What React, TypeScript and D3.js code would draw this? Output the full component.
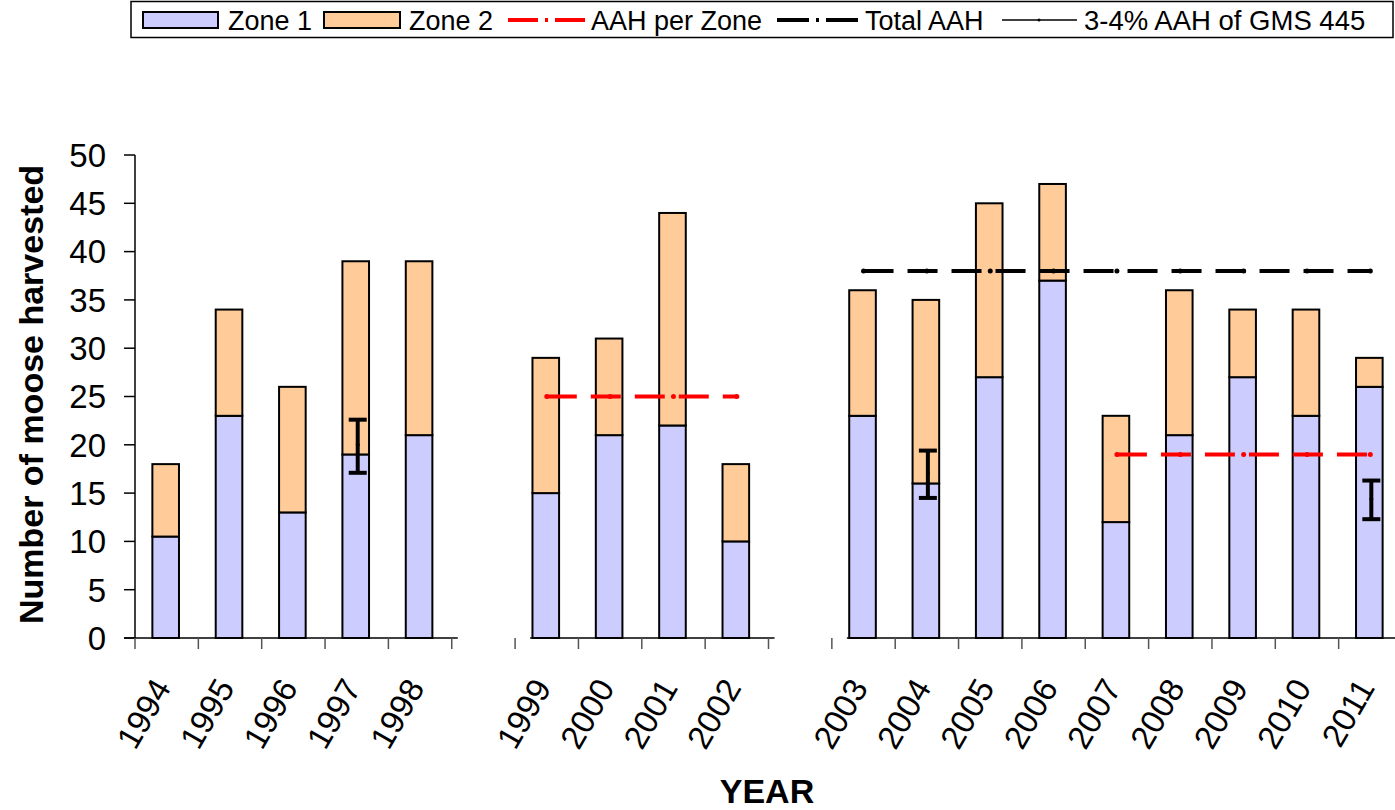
import React from "react";
import * as d3 from "d3";

// harvest by year (three separate reporting periods)
const period1 = ["1994", "1995", "1996", "1997", "1998"];
const period2 = ["1999", "2000", "2001", "2002"];
const period3 = ["2003", "2004", "2005", "2006", "2007", "2008", "2009", "2010", "2011"];
const years = [...period1, ...period2, ...period3];

const zone1 = [10.5, 23, 13, 19, 21, 15, 21, 22, 10, 23, 16, 27, 37, 12, 21, 27, 23, 26];
const zone2 = [7.5, 11, 13, 20, 18, 14, 10, 22, 8, 13, 19, 18, 10, 11, 15, 7, 11, 3];

// AAH lines
const aahZoneYearsA = ["1999", "2000", "2001", "2002"];
const aahZoneA = [25, 25, 25, 25];
const aahZoneYearsB = ["2007", "2008", "2009", "2010", "2011"];
const aahZoneB = [19, 19, 19, 19, 19];
const totalAahYears = period3;
const totalAah = [38, 38, 38, 38, 38, 38, 38, 38, 38];

// 3-4% AAH of GMS 445 (point + range)
const gmsYears = ["1997", "2004", "2011"];
const gmsMid = [20, 17.1, 14.4];
const gmsLow = [17.1, 14.5, 12.3];
const gmsHigh = [22.6, 19.4, 16.3];

const yTicks = [0, 5, 10, 15, 20, 25, 30, 35, 40, 45, 50];

const W = 1395;
const H = 810;
const font = "'Liberation Sans', Arial, sans-serif";

export default function App() {
  // gaps between the periods take one slot each
  const domain = [...period1, "gap1", ...period2, "gap2", ...period3];
  const x = d3.scaleBand().domain(domain).range([135, 1402]).padding(0);
  const bw = x.bandwidth();
  const y = d3.scaleLinear().domain([0, 50]).range([638, 155]);
  const barW = bw * 0.42;
  const cx = (d) => (x(d) as number) + bw / 2;

  const stack = d3.stack().keys(["z1", "z2"])(
    years.map((yr, i) => ({ year: yr, z1: zone1[i], z2: zone2[i] }))
  );
  const fills = ["#CCCCFF", "#FFCC99"];

  const line = d3
    .line<[string, number]>()
    .x((d) => cx(d[0]))
    .y((d) => y(d[1]));

  const dash = "30,14";

  const periods = [period1, period2, period3];

  return (
    <svg
      width={W}
      height={H}
      style={{ position: "absolute", left: 0, top: 0, background: "#fff" }}
      fontFamily={font}
    >
      {/* legend */}
      <g>
        <rect x={131} y={1.5} width={1262} height={36} fill="none" stroke="#000" strokeWidth={1.5} />
        <rect x={143} y={12} width={75} height={16} fill="#CCCCFF" stroke="#000" strokeWidth={2} />
        <text x={228} y={30} fontSize={27}>Zone 1</text>
        <rect x={324} y={12} width={76} height={16} fill="#FFCC99" stroke="#000" strokeWidth={2} />
        <text x={409} y={30} fontSize={27}>Zone 2</text>
        <line x1={508} x2={585} y1={20} y2={20} stroke="#FF0000" strokeWidth={4} strokeDasharray="30,7,3,7" />
        <text x={591} y={30} fontSize={27}>AAH per Zone</text>
        <line x1={777} x2={859} y1={20} y2={20} stroke="#000" strokeWidth={4} strokeDasharray="32,7,3,7" />
        <text x={865} y={30} fontSize={27}>Total AAH</text>
        <line x1={1002} x2={1077} y1={20} y2={20} stroke="#000" strokeWidth={1.5} />
        <circle cx={1039} cy={20} r={1.5} fill="#000" />
        <text x={1084} y={30} fontSize={27.5}>3-4% AAH of GMS 445</text>
      </g>

      {/* y axis */}
      <line x1={135} x2={135} y1={155} y2={638} stroke="#000" strokeWidth={1.5} />
      {yTicks.map((t) => (
        <g key={t}>
          <line x1={124} x2={135} y1={y(t)} y2={y(t)} stroke="#000" strokeWidth={1.5} />
          <text x={106} y={y(t)} dy="0.36em" textAnchor="end" fontSize={33}>
            {t}
          </text>
        </g>
      ))}
      <text
        transform={`translate(43,${(155 + 638) / 2 - 2}) rotate(-90)`}
        textAnchor="middle"
        fontSize={34}
        fontWeight="bold"
      >
        Number of moose harvested
      </text>

      {/* bars */}
      {stack.map((layer, li) =>
        layer.map((d, i) => (
          <rect
            key={`${li}-${i}`}
            x={cx(years[i]) - barW / 2 - 1}
            y={y(d[1])}
            width={barW}
            height={y(d[0]) - y(d[1])}
            fill={fills[li]}
            stroke="#000"
            strokeWidth={2}
          />
        ))
      )}

      {/* x axis, one piece per period */}
      {periods.map((p, pi) => {
        const start = x(p[0]) as number;
        const end = start + p.length * bw;
        const bounds = d3.range(p.length + 1).map((k) => start + k * bw);
        return (
          <g key={pi}>
            <line
              x1={pi === 0 ? start - 11 : start + 15}
              x2={pi === 2 ? W : end + 6}
              y1={638}
              y2={638}
              stroke="#000"
              strokeWidth={1.5}
            />
            {bounds.map((b, k) => (
              <line key={k} x1={b} x2={b} y1={638} y2={649} stroke="#555" strokeWidth={1.5} />
            ))}
          </g>
        );
      })}
      {years.map((yr) => (
        <text
          key={yr}
          transform={`translate(${cx(yr) - 15},${676}) rotate(-60)`}
          textAnchor="end"
          dy="0.71em"
          fontSize={33}
        >
          {yr}
        </text>
      ))}
      <text x={767} y={803} textAnchor="middle" fontSize={34} fontWeight="bold">
        YEAR
      </text>

      {/* AAH lines */}
      {[
        { yrs: aahZoneYearsA, vals: aahZoneA, color: "#FF0000" },
        { yrs: aahZoneYearsB, vals: aahZoneB, color: "#FF0000" },
        { yrs: totalAahYears, vals: totalAah, color: "#000" },
      ].map((s, si) => {
        const pts = s.yrs.map((yr, i) => [yr, s.vals[i]] as [string, number]);
        return (
          <g key={si}>
            <path d={line(pts) || ""} fill="none" stroke={s.color} strokeWidth={4} strokeDasharray={dash} />
            {pts.map((p, i) => (
              <circle key={i} cx={cx(p[0])} cy={y(p[1])} r={2.5} fill={s.color} />
            ))}
          </g>
        );
      })}

      {/* GMS range bars */}
      {gmsYears.map((yr, i) => {
        const px = cx(yr) + 1;
        return (
          <g key={yr} stroke="#000" strokeWidth={4}>
            <line x1={px} x2={px} y1={y(gmsLow[i])} y2={y(gmsHigh[i])} />
            <line x1={px - 9} x2={px + 9} y1={y(gmsLow[i])} y2={y(gmsLow[i])} />
            <line x1={px - 9} x2={px + 9} y1={y(gmsHigh[i])} y2={y(gmsHigh[i])} />
            <circle cx={px} cy={y(gmsMid[i])} r={2} fill="#000" stroke="none" />
          </g>
        );
      })}
    </svg>
  );
}
